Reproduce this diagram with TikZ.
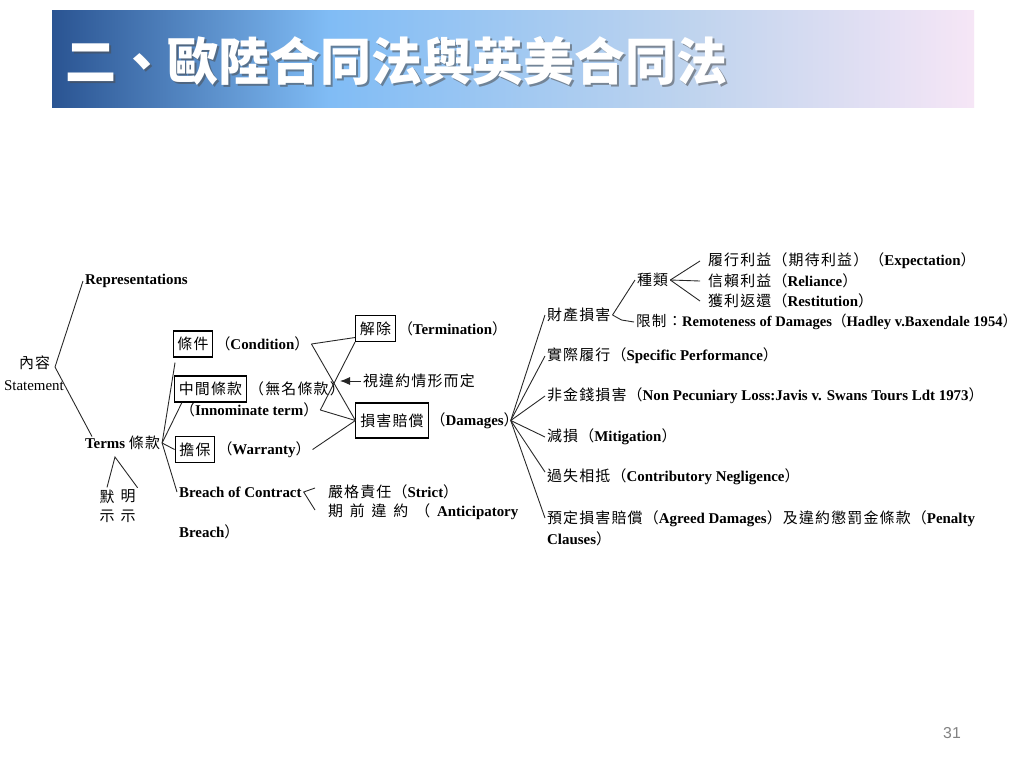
\documentclass[tikz,border=0pt]{standalone}
\usepackage{fontspec}
\setmainfont{Liberation Serif}
\newfontfamily\cjk[LetterSpace=8]{Noto Sans CJK TC}
\newfontfamily\cjktitle{Noto Sans CJK TC}
\newfontfamily\pagefont{Liberation Sans}
\newcommand{\zh}[1]{{\cjk\mdseries #1}}
\definecolor{barleft}{RGB}{42,84,146}
\definecolor{barmid}{RGB}{128,188,245}
\definecolor{barpale}{RGB}{192,212,238}
\definecolor{barright}{RGB}{246,230,246}
\definecolor{pagegray}{RGB}{130,130,130}
\usetikzlibrary{positioning,arrows.meta,calc}
\pgfdeclarehorizontalshading{titlebar}{100bp}{color(0bp)=(barleft); color(25bp)=(barleft); color(40bp)=(barmid); color(60bp)=(barpale); color(75bp)=(barright); color(100bp)=(barright)}
\tikzset{
  txt/.style={inner sep=1pt, anchor=west, font=\fontsize{8.5}{10.5}\selectfont\bfseries},
  plain/.style={inner sep=1pt, anchor=west, font=\fontsize{8.5}{10.5}\selectfont},
  zbox/.style={draw, line width=0.6pt, inner xsep=2.5pt, inner ysep=1pt, minimum height=0.52cm, font=\fontsize{8.5}{10.5}\selectfont},
  link/.style={line width=0.5pt, draw=black!85},
  titletxt/.style={anchor=west, inner sep=0pt, font=\cjktitle\bfseries\fontsize{29}{31}\selectfont}
}

\begin{document}
\begin{tikzpicture}[x=0.02cm, y=-0.02cm]
    \useasboundingbox (0,0) rectangle (1024,768);
    \fill[white] (0,0) rectangle (1024,768);

    % Title bar
    \shade[shading=titlebar] (52,10) rectangle (974,107);
    \node[titletxt, text=black!70, opacity=0.55] (titleshadow) at (67,63) {二、歐陸合同法與英美合同法};
    \node[titletxt, text=white] (title) at (65,61) {二、歐陸合同法與英美合同法};

    % Content
    \node[plain] (content) at (17,363) {\zh{內容}};
    \node[plain] (statement) at (2,386) {Statement};
    \node[txt] (repr) at (83,281) {Representations};
    \node[txt] (terms) at (83,443) {Terms \zh{條款}};
    \coordinate (cfork) at (55,367);
    \draw[link] (repr.west) -- (cfork) -- ([xshift=1.8mm,yshift=-0.5mm]terms.north west);

    % Implied and express
    \node[plain, anchor=center, align=center, font=\fontsize{8.5}{11}\selectfont] (implied) at (107,506) {\zh{默}\\\zh{示}};
    \node[plain, anchor=center, align=center, font=\fontsize{8.5}{11}\selectfont] (express) at (128,506) {\zh{明}\\\zh{示}};
    \coordinate (ifork) at (115,457);
    \draw[link] (implied.north) -- (ifork) -- (express.north east);

    % Kinds of terms
    \node[zbox] (cond) at (193,344) {\zh{條件}};
    \node[txt, right=0pt of cond] (condtxt) {\zh{（}Condition\zh{）}};
    \node[zbox] (inno) at (210.5,389) {\zh{中間條款}};
    \node[txt, right=0pt of inno] (innotxt) {\zh{（無名條款）}};
    \node[txt] (innoterm) at (178,410) {\zh{（}Innominate term\zh{）}};
    \node[zbox] (warr) at (195,449.5) {\zh{擔保}};
    \node[txt, right=0pt of warr] (warrtxt) {\zh{（}Warranty\zh{）}};
    \node[txt] (breach) at (177,492) {Breach of Contract};
    \draw[link] (terms.east) -- ([xshift=0.5mm,yshift=-1mm]cond.south west);
    \draw[link] (terms.east) -- ([xshift=1.6mm]inno.south west);
    \draw[link] (terms.east) -- (warr.west);
    \draw[link] (terms.east) -- (breach.west);

    % Breach
    \node[txt] (strict) at (326,492) {\zh{嚴格責任（}Strict\zh{）}};
    \node[txt] (antic) at (326,512) {\zh{期}\hspace{3.9pt}\zh{前}\hspace{3.9pt}\zh{違}\hspace{3.9pt}\zh{約}\hspace{3.9pt}\zh{（}\hspace{3.9pt}Anticipatory};
    \node[txt] (breachb) at (177,532) {Breach\zh{）}};
    \coordinate (strictend) at (315,488);
    \coordinate (anticend) at (315,510);
    \draw[link] (strictend) -- (breach.east) -- (anticend);

    % Remedies
    \node[zbox] (term) at (375.5,328.5) {\zh{解除}};
    \node[txt, right=0pt of term] (termtxt) {\zh{（}Termination\zh{）}};
    \node[zbox, minimum height=0.7cm] (dam) at (392,420.5) {\zh{損害賠償}};
    \node[txt, right=0pt of dam] (damtxt) {\zh{（}Damages\zh{）}};
    \draw[link] (condtxt.east) -- ([yshift=-1.8mm]term.west);
    \draw[link] (condtxt.east) -- (dam.west);
    \draw[link] (innoterm.east) -- (term.south west);
    \draw[link] (innoterm.east) -- (dam.west);
    \draw[link] (warrtxt.east) -- (dam.west);

    % Depends on the breach
    \node[plain] (depend) at (361,381) {\zh{視違約情形而定}};
    \coordinate (dependtip) at (340,381);
    \draw[link, -{Latex[length=2mm,width=1.6mm]}] (depend.west) -- (dependtip);

    % Damages
    \node[txt] (prop) at (545,315) {\zh{財產損害}};
    \node[txt] (spec) at (545,356) {\zh{實際履行（}Specific Performance\zh{）}};
    \node[txt] (nonpec) at (545,396) {\zh{非金錢損害（}Non Pecuniary Loss:Javis v. Swans Tours Ldt 1973\zh{）}};
    \node[txt] (mitig) at (545,437) {\zh{減損（}Mitigation\zh{）}};
    \node[txt] (contrib) at (545,477) {\zh{過失相抵（}Contributory Negligence\zh{）}};
    \node[txt, anchor=north west, align=left, font=\fontsize{8.5}{12}\selectfont\bfseries] (agreed) at (545,509) {\zh{預定損害賠償（}Agreed Damages\zh{）及違約懲罰金條款（}Penalty\\Clauses\zh{）}};
    \coordinate (dfork) at ([xshift=-2mm]damtxt.east);
    \foreach \t in {prop,spec,nonpec,mitig}
        \draw[link] (dfork) -- (\t.west);
    \draw[link] (dfork) -- ([yshift=1mm]contrib.west);
    \draw[link] (dfork) -- ([yshift=-1.8mm]agreed.north west);

    % Property damages
    \node[txt] (kinds) at (635,280) {\zh{種類}};
    \node[txt, font=\fontsize{8.3}{10.5}\selectfont\bfseries] (limit) at (634,322) {\zh{限制：}Remoteness of Damages\zh{（}Hadley v.Baxendale 1954\zh{）}};
    \draw[link] (prop.east) -- (kinds.west);
    \draw[link] (prop.east) -- ++(9,5) -- (limit.west);
    \node[txt] (expect) at (706,261) {\zh{履行利益（期待利益）（}Expectation\zh{）}};
    \node[txt] (reli) at (706,281) {\zh{信賴利益（}Reliance\zh{）}};
    \node[txt] (restit) at (706,301) {\zh{獲利返還（}Restitution\zh{）}};
    \foreach \t in {expect,reli,restit}
        \draw[link] (kinds.east) -- ([xshift=-1.2mm]\t.west);

    % Page number
    \node[font=\pagefont\fontsize{9}{11}\selectfont, text=pagegray] (pagenum) at (952,733) {31};
\end{tikzpicture}
\end{document}
